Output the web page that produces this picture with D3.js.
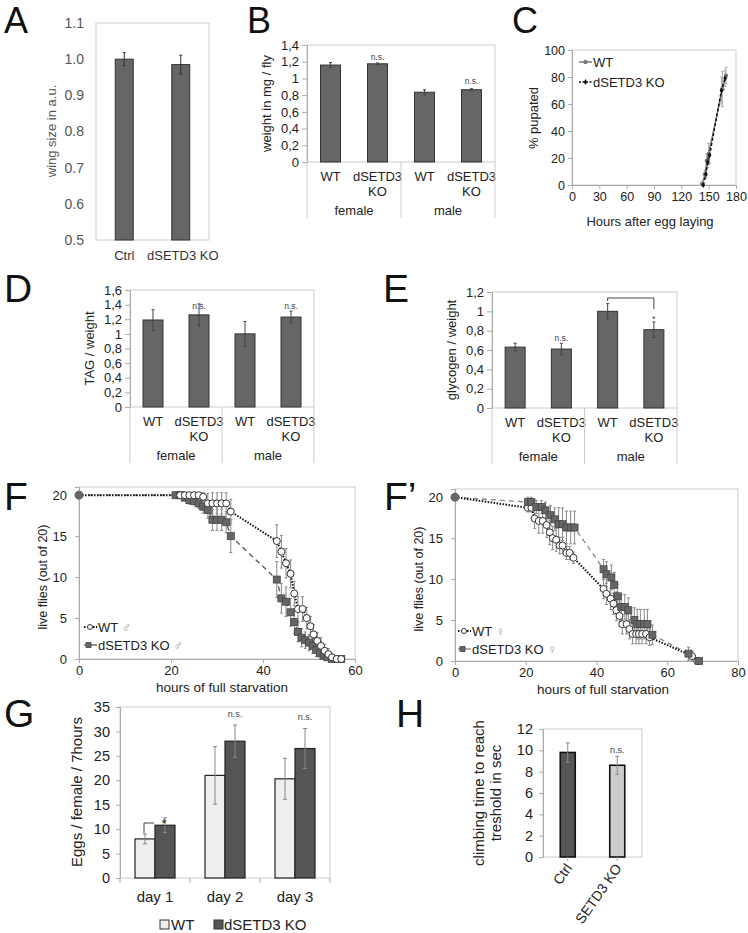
<html>
<script src="https://cdnjs.cloudflare.com/ajax/libs/d3/7.8.5/d3.min.js"></script>
<style>
  body { margin: 0; background: #fff; }
  svg text { font-family: "Liberation Sans", Arial, sans-serif; }
</style>
<body>
<svg width="748" height="933"></svg>
<script>
// ---- data ----
// A: wing size
const aCats = ["Ctrl", "dSETD3 KO"];
const aVals = [1.0, 0.985];
const aErr = [0.018, 0.026];
const aTicks = [0.5, 0.6, 0.7, 0.8, 0.9, 1.0, 1.1];

// B, D, E share the same grouping
const groupCats = ["WT", "dSETD3 KO", "WT", "dSETD3 KO"];
const groupNames = ["female", "male"];

const bVals = [1.16, 1.175, 0.835, 0.865];
const bErr = [0.03, 0.01, 0.03, 0.012];
const bTicks = [0, 0.2, 0.4, 0.6, 0.8, 1, 1.2, 1.4];

const dVals = [1.19, 1.26, 1.0, 1.23];
const dErr = [0.14, 0.15, 0.17, 0.08];
const dTicks = [0, 0.2, 0.4, 0.6, 0.8, 1, 1.2, 1.4, 1.6];

const eVals = [0.63, 0.61, 1.0, 0.81];
const eErr = [0.04, 0.06, 0.08, 0.08];
const eTicks = [0, 0.2, 0.4, 0.6, 0.8, 1, 1.2];

// C: pupation
const cWtH = [143, 146, 148, 150, 165, 169];
const cWtV = [1, 8, 18, 23, 71, 81];
const cWtE = [1, 3, 5, 8, 13, 6];
const cKoH = [144, 147, 149, 151, 164, 168];
const cKoV = [0, 8, 17, 22, 70, 79];
const cKoE = [1, 3, 4, 6, 10, 6];
const cXTicks = [0, 30, 60, 90, 120, 150, 180];
const cYTicks = [0, 20, 40, 60, 80, 100];

// F: male starvation
const fWtH = [0, 22, 23, 24, 25, 26, 27, 28, 29, 30, 31, 32, 33, 43, 44, 45, 46, 46.8, 47.6, 48.6, 49.5, 50.3, 51, 51.8, 52.6, 53.4, 54.2, 55, 56, 57];
const fWtV = [20, 20, 20, 20, 20, 20, 19.8, 19, 19, 19, 19, 19, 18, 14.4, 13.1, 11.7, 10.4, 8, 6.1, 6.1, 5, 4, 3, 2.2, 1.6, 1, 0.6, 0.2, 0, 0];
const fWtE = [0, 0, 0, 0, 0, 0, 0.5, 1.2, 1.3, 1.3, 1.3, 1.3, 1.5, 2, 2, 1.8, 1.7, 1.5, 1.5, 1.5, 1.3, 1.2, 1.2, 1, 1, 0.8, 0.7, 0.5, 0, 0];
const fKoH = [0, 21, 22, 23, 24, 25, 26, 27, 28, 29, 30, 31, 32, 33, 43, 44, 45, 46, 46.8, 47.6, 48.4, 49.2, 50, 50.8, 51.6, 52.4, 53.2, 54, 55, 56, 57];
const fKoV = [20, 20, 20, 19.7, 19.4, 19.3, 19, 18.6, 18.2, 17, 17, 17, 16.7, 15, 9.7, 7.4, 7, 5.7, 4.5, 3.3, 2.6, 2.3, 2, 1.6, 1.1, 0.7, 0.4, 0.2, 0, 0, 0];
const fKoE = [0, 0, 0, 0.3, 0.5, 0.5, 0.6, 0.8, 1, 1.3, 1.3, 1.3, 1.3, 2, 2.2, 1.8, 1.8, 1.7, 1.4, 1.2, 1.1, 1, 1, 0.9, 0.8, 0.7, 0.5, 0.4, 0, 0, 0];
const fXTicks = [0, 20, 40, 60];
const fYTicks = [0, 5, 10, 15, 20];

// F': female starvation
const fpWtH = [0, 20.6, 21.6, 22.5, 23.7, 24.8, 25.9, 26.8, 27.6, 28.6, 29.6, 30.4, 31.5, 32.4, 33.5, 42, 42.8, 44, 44.8, 45.6, 46.5, 47.3, 48.5, 49.3, 50.2, 51.2, 52, 52.9, 54, 55, 67, 68.5];
const fpWtV = [20, 18.7, 18.7, 17.4, 17.1, 17.1, 16.6, 15.7, 15, 14.8, 14.1, 14.1, 13.2, 13.2, 12.6, 8.8, 8.2, 7.6, 7, 6.2, 5.5, 4.5, 4.5, 3.9, 3.3, 3.3, 3.3, 3.3, 3.3, 2.9, 0.6, 0];
const fpWtE = [0, 0.5, 0.5, 1.2, 1.5, 1.5, 1.5, 1.5, 1.4, 1.4, 1, 1, 0.8, 0.8, 0.7, 1.2, 1.3, 1.3, 1.3, 1.3, 1.3, 1.2, 1.2, 1.2, 1.2, 1.2, 1.2, 1.2, 1.2, 1, 0.6, 0];
const fpKoH = [0, 20.6, 21.6, 23, 24.5, 25.6, 27, 28.2, 29.3, 30.4, 31.5, 32.7, 33.8, 42, 42.8, 44.2, 45, 46, 47, 48, 49, 50.7, 51.5, 52.4, 53.5, 54.4, 55.8, 66, 69];
const fpKoV = [20, 19.4, 19.4, 18.8, 18.8, 18.4, 17.8, 17.3, 16.7, 16.7, 16.3, 16.3, 16.3, 11.2, 10.6, 10.2, 9.3, 7.9, 6.6, 6.6, 6.2, 5, 4.5, 4.5, 4.5, 4.5, 3.2, 0.9, 0];
const fpKoE = [0, 0.6, 0.6, 0.8, 0.8, 1, 1.2, 1.4, 2, 2, 2, 2, 2, 1.2, 1.5, 1.5, 1.5, 1.5, 1.5, 1.5, 1.5, 1.5, 1.8, 1.8, 1.8, 1.8, 1.2, 0.8, 0];
const fpXTicks = [0, 20, 40, 60, 80];

// G: egg laying
const gDays = ["day 1", "day 2", "day 3"];
const gWt = [8, 21, 20.3];
const gWtErr = [1, 5.9, 4.2];
const gKo = [10.8, 28, 26.5];
const gKoErr = [1.5, 3.3, 4.1];
const gTicks = [0, 5, 10, 15, 20, 25, 30, 35];

// H: climbing
const hCats = ["Ctrl", "SETD3 KO"];
const hVals = [9.8, 8.6];
const hErr = [0.9, 0.85];
const hTicks = [0, 2, 4, 6, 8, 10, 12];

// ---- drawing ----
const svg = d3.select("svg");
const comma = d => String(d).replace(".", ",");

function letter(t, x, y, size) {
  svg.append("text").attr("x", x).attr("y", y).attr("font-size", size).attr("fill", "#111").text(t);
}

function styleAxis(g, col, fs) {
  g.select(".domain").attr("stroke", "#aaa");
  g.selectAll(".tick line").attr("stroke", "#aaa");
  g.selectAll(".tick text").attr("fill", col || "#222").attr("font-size", fs || 12.5);
}

function errBar(g, x, y1, y2, cap, col, w) {
  g.append("line").attr("x1", x).attr("x2", x).attr("y1", y1).attr("y2", y2)
    .attr("stroke", col).attr("stroke-width", w || 1);
  if (cap) {
    [y1, y2].forEach(yy => g.append("line").attr("x1", x - cap).attr("x2", x + cap)
      .attr("y1", yy).attr("y2", yy).attr("stroke", col).attr("stroke-width", w || 1));
  }
}

function box(x0, x1, yTop, yBot) {
  svg.append("rect").attr("x", x0).attr("y", yTop).attr("width", x1 - x0).attr("height", yBot - yTop)
    .attr("fill", "none").attr("stroke", "#ccc");
}

function yLabel(lines, x, y, fs, col) {
  const t = svg.append("text").attr("transform", "translate(" + x + "," + y + ") rotate(-90)")
    .attr("text-anchor", "middle").attr("font-size", fs).attr("fill", col || "#222");
  lines.forEach((l, i) => t.append("tspan").attr("x", 0).attr("dy", i ? fs * 1.15 : 0).text(l));
}

// ---- A ----
letter("A", 4, 33, 36);
(function () {
  const x = d3.scaleBand().domain(aCats).range([96, 209]);
  const y = d3.scaleLinear().domain([0.5, 1.1]).range([240, 23]);
  box(96, 209, 23, 240);
  const ax = svg.append("g").attr("transform", "translate(96,0)")
    .call(d3.axisLeft(y).tickValues(aTicks).tickSize(0).tickPadding(12).tickFormat(d3.format(".1f")));
  ax.select(".domain").remove();
  ax.selectAll(".tick text").attr("fill", "#555").attr("font-size", 14);
  const g = svg.append("g");
  aCats.forEach((c, i) => {
    const cx = x(c) + x.bandwidth() / 2;
    g.append("rect").attr("x", cx - 9).attr("y", y(aVals[i])).attr("width", 18)
      .attr("height", 240 - y(aVals[i])).attr("fill", "#666").attr("stroke", "#333");
    errBar(g, cx, y(aVals[i] - aErr[i]), y(aVals[i] + aErr[i]), 1.5, "#333");
    svg.append("text").attr("x", cx + (i ? 2 : 0)).attr("y", 260).attr("text-anchor", "middle")
      .attr("font-size", 13).attr("fill", "#333").text(c);
  });
  yLabel(["wing size in a.u."], 56, 131, 13, "#555");
})();

// ---- B, D, E grouped bar charts ----
function groupBars(o) {
  const x = d3.scaleBand().domain(d3.range(o.vals.length)).range([o.x0, o.x1]);
  const y = d3.scaleLinear().domain([0, o.max]).range([o.y0, o.y1]);
  const step = x.step();
  box(o.x0, o.x1, o.y1, o.y0);
  const ax = svg.append("g").attr("transform", "translate(" + o.x0 + ",0)")
    .call(d3.axisLeft(y).tickValues(o.ticks).tickSize(5).tickFormat(comma));
  styleAxis(ax, "#222", 13);
  const g = svg.append("g");
  o.vals.forEach((v, i) => {
    const cx = x(i) + step / 2;
    g.append("rect").attr("x", cx - 10).attr("y", y(v)).attr("width", 20).attr("height", o.y0 - y(v))
      .attr("fill", "#666").attr("stroke", "#333");
    errBar(g, cx, y(v - o.err[i]), y(v + o.err[i]), 1.5, "#444");
    const lab = groupCats[i].split(" ");
    lab.forEach((l, k) => svg.append("text").attr("x", cx).attr("y", o.y0 + 19 + k * 15)
      .attr("text-anchor", "middle").attr("font-size", 13).attr("fill", "#222").text(l));
  });
  [o.x0, o.x0 + 2 * step, o.x1].forEach(xx => svg.append("line").attr("x1", xx).attr("x2", xx)
    .attr("y1", o.y0).attr("y2", o.y0 + 56).attr("stroke", "#ccc"));
  groupNames.forEach((n, k) => svg.append("text").attr("x", o.x0 + step * (2 * k + 1)).attr("y", o.y0 + 53)
    .attr("text-anchor", "middle").attr("font-size", 13).attr("fill", "#222").text(n));
  (o.ns || []).forEach(p => svg.append("text").attr("x", x(p[0]) + step / 2).attr("y", p[1])
    .attr("text-anchor", "middle").attr("font-size", 8.5).attr("fill", "#444").text("n.s."));
  yLabel([o.label], o.labelX, (o.y0 + o.y1) / 2, 13);
  return { x: x, y: y, step: step };
}

letter("B", 247, 33, 36);
groupBars({ x0: 307, x1: 495, y0: 162, y1: 45, max: 1.4, ticks: bTicks, vals: bVals, err: bErr,
  ns: [[1, 60], [3, 84]], label: "weight in mg / fly", labelX: 271 });

letter("D", 4, 302, 39);
groupBars({ x0: 130, x1: 314, y0: 407, y1: 290, max: 1.6, ticks: dTicks, vals: dVals, err: dErr,
  ns: [[1, 309], [3, 309]], label: "TAG / weight", labelX: 94 });

letter("E", 383, 302, 39);
const eSc = groupBars({ x0: 492, x1: 677, y0: 408, y1: 292, max: 1.2, ticks: eTicks, vals: eVals, err: eErr,
  ns: [[1, 341]], label: "glycogen / weight", labelX: 456 });
(function () {
  const xa = eSc.x(2) + eSc.step / 2, xb = eSc.x(3) + eSc.step / 2;
  svg.append("path").attr("d", "M" + xa + ",301V298H" + xb + "V309")
    .attr("fill", "none").attr("stroke", "#444");
  svg.append("text").attr("x", xb).attr("y", 322).attr("text-anchor", "middle")
    .attr("font-size", 9).attr("fill", "#444").text("*");
})();

// ---- C ----
letter("C", 512, 33, 36);
(function () {
  const x = d3.scaleLinear().domain([0, 180]).range([572, 736]);
  const y = d3.scaleLinear().domain([0, 100]).range([185, 50]);
  box(572, 736, 50, 185);
  styleAxis(svg.append("g").attr("transform", "translate(572,0)")
    .call(d3.axisLeft(y).tickValues(cYTicks).tickSize(4)), "#222", 12.5);
  styleAxis(svg.append("g").attr("transform", "translate(0,185)")
    .call(d3.axisBottom(x).tickValues(cXTicks).tickSize(4)), "#222", 12.5);
  const g = svg.append("g");
  const line = d3.line().x(d => x(d[0])).y(d => y(d[1]));
  const wt = cWtH.map((h, i) => [h, cWtV[i], cWtE[i]]);
  const ko = cKoH.map((h, i) => [h, cKoV[i], cKoE[i]]);
  wt.concat(ko).forEach(d => errBar(g, x(d[0]), y(d[1] - d[2]), y(Math.min(100, d[1] + d[2])), 1.5, "#aaa"));
  g.append("path").attr("d", line(wt)).attr("fill", "none").attr("stroke", "#777").attr("stroke-width", 1.5);
  g.append("path").attr("d", line(ko)).attr("fill", "none").attr("stroke", "#111").attr("stroke-width", 1.5)
    .attr("stroke-dasharray", "3,2");
  wt.forEach(d => g.append("circle").attr("cx", x(d[0])).attr("cy", y(d[1])).attr("r", 2.2).attr("fill", "#777"));
  ko.forEach(d => g.append("path").attr("transform", "translate(" + x(d[0]) + "," + y(d[1]) + ")")
    .attr("d", d3.symbol(d3.symbolDiamond, 11)()).attr("fill", "#111"));
  // legend
  g.append("line").attr("x1", 579).attr("x2", 592).attr("y1", 62).attr("y2", 62).attr("stroke", "#777").attr("stroke-width", 1.5);
  g.append("circle").attr("cx", 585.5).attr("cy", 62).attr("r", 2.2).attr("fill", "#777");
  g.append("line").attr("x1", 579).attr("x2", 592).attr("y1", 82).attr("y2", 82).attr("stroke", "#111")
    .attr("stroke-width", 1.5).attr("stroke-dasharray", "2,1.5");
  g.append("path").attr("transform", "translate(585.5,82)").attr("d", d3.symbol(d3.symbolDiamond, 11)()).attr("fill", "#111");
  g.append("text").attr("x", 593).attr("y", 67).attr("font-size", 13).attr("fill", "#222").text("WT");
  g.append("text").attr("x", 593).attr("y", 87).attr("font-size", 13).attr("fill", "#222").text("dSETD3 KO");
  yLabel(["% pupated"], 538, 118, 13);
  svg.append("text").attr("x", 650).attr("y", 226).attr("text-anchor", "middle").attr("font-size", 13)
    .attr("fill", "#222").text("Hours after egg laying");
})();

// ---- F and F' survival ----
function survival(o) {
  const x = d3.scaleLinear().domain([0, o.xmax]).range([o.x0, o.x1]);
  const y = d3.scaleLinear().domain([0, 21]).range([o.y0, o.y0 - 172]);
  box(o.x0, o.x1, y(21), o.y0);
  styleAxis(svg.append("g").attr("transform", "translate(" + o.x0 + ",0)")
    .call(d3.axisLeft(y).tickValues(fYTicks).tickSize(4).tickPadding(8)), "#222", 13);
  styleAxis(svg.append("g").attr("transform", "translate(0," + o.y0 + ")")
    .call(d3.axisBottom(x).tickValues(o.xTicks).tickSize(4).tickPadding(3)), "#222", 13);
  const g = svg.append("g");
  const line = d3.line().x(d => x(d[0])).y(d => y(d[1]));
  const wt = o.wtH.map((h, i) => [h, o.wtV[i], o.wtE[i]]);
  const ko = o.koH.map((h, i) => [h, o.koV[i], o.koE[i]]);
  wt.concat(ko).forEach(d => { if (d[2] > 0) errBar(g, x(d[0]), y(Math.max(0, d[1] - d[2])), y(d[1] + d[2]), 1.5, "#888"); });
  g.append("path").attr("d", line(ko)).attr("fill", "none").attr("stroke", o.koLine)
    .attr("stroke-width", 1.3).attr("stroke-dasharray", "5,4");
  g.append("path").attr("d", line(wt)).attr("fill", "none").attr("stroke", "#111")
    .attr("stroke-width", 2).attr("stroke-dasharray", "1.5,1.5");
  const drawKo = (gg, cx, cy) => gg.append("rect").attr("x", cx - 3.5).attr("y", cy - 3.5).attr("width", 7).attr("height", 7)
    .attr("fill", "#666").attr("stroke", "#444").attr("stroke-width", 0.8);
  const drawWt = (gg, cx, cy) => gg.append("circle").attr("cx", cx).attr("cy", cy).attr("r", 3.5)
    .attr("fill", "#fff").attr("stroke", "#333").attr("stroke-width", 1);
  o.order.forEach(s => {
    if (s === "ko") ko.slice(1).forEach(d => drawKo(g, x(d[0]), y(d[1])));
    else wt.slice(1).forEach(d => drawWt(g, x(d[0]), y(d[1])));
  });
  g.append("circle").attr("cx", x(0)).attr("cy", y(20)).attr("r", 4.5).attr("fill", "#666");
  // legend
  const lx = o.legX, ly = o.legY;
  g.append("line").attr("x1", lx).attr("x2", lx + 13).attr("y1", ly).attr("y2", ly).attr("stroke", "#111")
    .attr("stroke-width", 2).attr("stroke-dasharray", "1.5,1.5");
  drawWt(g, lx + 6, ly).attr("r", 2.5);
  g.append("line").attr("x1", lx).attr("x2", lx + 13).attr("y1", ly + 18).attr("y2", ly + 18).attr("stroke", o.koLine)
    .attr("stroke-width", 1.3);
  drawKo(g, lx + 5, ly + 18).attr("x", lx + 2).attr("y", ly + 15.5).attr("width", 5).attr("height", 5);
  const t1 = g.append("text").attr("x", lx + 14).attr("y", ly + 5).attr("font-size", 13).attr("fill", "#222").text("WT ");
  t1.append("tspan").attr("fill", "#999").text(o.sym);
  const t2 = g.append("text").attr("x", lx + 14).attr("y", ly + 23).attr("font-size", 13).attr("fill", "#222").text("dSETD3 KO ");
  t2.append("tspan").attr("fill", "#999").text(o.sym);
  yLabel(["live flies (out of 20)"], o.x0 - 32, o.y0 - 82, 12.5);
  svg.append("text").attr("x", o.xlabX).attr("y", o.y0 + 33).attr("text-anchor", "middle").attr("font-size", 13.5)
    .attr("fill", "#222").text("hours of full starvation");
}

letter("F", 4, 510, 39);
survival({ x0: 79, x1: 355, y0: 659, xmax: 60, xTicks: fXTicks, wtH: fWtH, wtV: fWtV, wtE: fWtE,
  koH: fKoH, koV: fKoV, koE: fKoE, koLine: "#555", order: ["ko", "wt"], legX: 84, legY: 627, sym: "♂", xlabX: 222 });

letter("F\u2019", 384, 510, 39);
survival({ x0: 455, x1: 738, y0: 661, xmax: 80, xTicks: fpXTicks, wtH: fpWtH, wtV: fpWtV, wtE: fpWtE,
  koH: fpKoH, koV: fpKoV, koE: fpKoE, koLine: "#888", order: ["wt", "ko"], legX: 458, legY: 631, sym: "♀", xlabX: 603 });

// ---- G ----
letter("G", 4, 727, 39);
(function () {
  const x = d3.scaleBand().domain(gDays).range([120, 330]);
  const y = d3.scaleLinear().domain([0, 35]).range([878, 707]);
  box(120, 330, 707, 878);
  styleAxis(svg.append("g").attr("transform", "translate(120,0)")
    .call(d3.axisLeft(y).tickValues(gTicks).tickSize(4).tickPadding(6)), "#222", 14.5);
  // ticks between the day categories
  x.domain().concat(["end"]).forEach((d, i) => {
    const xx = 120 + i * x.step();
    svg.append("line").attr("x1", xx).attr("x2", xx).attr("y1", 878).attr("y2", 883).attr("stroke", "#aaa");
  });
  const g = svg.append("g");
  gDays.forEach((d, i) => {
    const cx = x(d) + x.step() / 2;
    g.append("rect").attr("x", cx - 20).attr("y", y(gWt[i])).attr("width", 20).attr("height", 878 - y(gWt[i]))
      .attr("fill", "#eee").attr("stroke", "#222").attr("stroke-width", 1.2);
    g.append("rect").attr("x", cx).attr("y", y(gKo[i])).attr("width", 20).attr("height", 878 - y(gKo[i]))
      .attr("fill", "#555").attr("stroke", "#222").attr("stroke-width", 1.2);
    errBar(g, cx - 10, y(gWt[i] - gWtErr[i]), y(gWt[i] + gWtErr[i]), 2, "#888");
    errBar(g, cx + 10, y(gKo[i] - gKoErr[i]), y(gKo[i] + gKoErr[i]), 2, "#888");
    svg.append("text").attr("x", cx).attr("y", 902).attr("text-anchor", "middle").attr("font-size", 15)
      .attr("fill", "#222").text(d);
    if (i > 0) svg.append("text").attr("x", cx + 10).attr("y", y(gKo[i] + gKoErr[i]) - 8).attr("text-anchor", "middle")
      .attr("font-size", 9).attr("fill", "#444").text("n.s.");
  });
  const c1 = x(gDays[0]) + x.step() / 2;
  svg.append("path").attr("d", "M" + (c1 - 11) + ",833V823H" + (c1 - 1)).attr("fill", "none").attr("stroke", "#444");
  svg.append("text").attr("x", c1 + 9).attr("y", 828).attr("text-anchor", "middle").attr("font-size", 13)
    .attr("fill", "#222").text("*");
  yLabel(["Eggs / female / 7hours"], 82, 792, 15);
  // legend
  svg.append("rect").attr("x", 160).attr("y", 920).attr("width", 9).attr("height", 9).attr("fill", "#eee").attr("stroke", "#333");
  svg.append("text").attr("x", 171).attr("y", 930).attr("font-size", 15).attr("fill", "#222").text("WT");
  svg.append("rect").attr("x", 214).attr("y", 920).attr("width", 9).attr("height", 9).attr("fill", "#555").attr("stroke", "#333");
  svg.append("text").attr("x", 224).attr("y", 930).attr("font-size", 15).attr("fill", "#222").text("dSETD3 KO");
})();

// ---- H ----
letter("H", 396, 727, 39);
(function () {
  const x = d3.scaleBand().domain(hCats).range([543, 642]);
  const y = d3.scaleLinear().domain([0, 12]).range([857, 729]);
  box(543, 642, 729, 857);
  styleAxis(svg.append("g").attr("transform", "translate(543,0)")
    .call(d3.axisLeft(y).tickValues(hTicks).tickSize(4).tickPadding(6)), "#222", 14.5);
  const g = svg.append("g");
  const fills = ["#555", "#ccc"];
  hCats.forEach((c, i) => {
    const cx = x(c) + x.step() / 2;
    g.append("rect").attr("x", cx - 7.5).attr("y", y(hVals[i])).attr("width", 15).attr("height", 857 - y(hVals[i]))
      .attr("fill", fills[i]).attr("stroke", "#111").attr("stroke-width", 1.6);
    errBar(g, cx, y(hVals[i] - hErr[i]), y(hVals[i] + hErr[i]), 2, "#888");
    svg.append("line").attr("x1", cx).attr("x2", cx).attr("y1", 857).attr("y2", 861).attr("stroke", "#aaa");
    svg.append("text").attr("transform", "translate(" + (cx + 5) + ",868) rotate(-55)")
      .attr("text-anchor", "end").attr("font-size", 14).attr("fill", "#222").text(c);
  });
  svg.append("text").attr("x", x(hCats[1]) + x.step() / 2).attr("y", 753).attr("text-anchor", "middle")
    .attr("font-size", 9).attr("fill", "#444").text("n.s.");
  yLabel(["climbing time to reach", "treshold in sec"], 484, 793, 15);
})();
</script>
</body>
</html>
